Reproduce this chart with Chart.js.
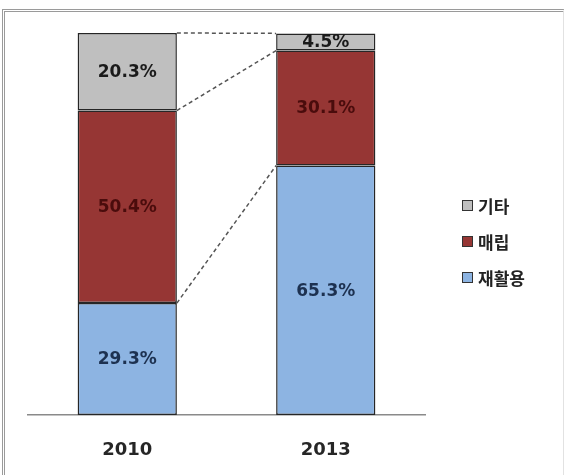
<!DOCTYPE html>
<html>
<head>
<meta charset="utf-8">
<script src="https://cdn.jsdelivr.net/npm/chart.js@4.4.0/dist/chart.umd.min.js"></script>
<style>
  html, body { margin: 0; padding: 0; background: #fff; }
  #wrap  { position: relative; width: 564px; height: 475px; overflow: hidden; }
  #frame { position: absolute; left: 2px; top: 9px; width: 558px; height: 480px;
           border-top: 3px double #9a9a9a; border-left: 3px double #9a9a9a; border-right: 1px solid #e2e2e2; }
  #chart { position: absolute; left: 0; top: 0; }
  #legend { position: absolute; left: 462px; top: 187px; font-family: "Noto Sans CJK KR", sans-serif;
            font-size: 17px; font-weight: 700; color: #222; }
  .item { display: flex; align-items: center; height: 36px; }
  .box  { width: 9px; height: 9px; border: 1px solid #333; margin-right: 5px; }
</style>
</head>
<body>
<div id="wrap">
  <div id="frame"></div>
  <canvas id="chart" width="564" height="475"></canvas>
  <div id="legend"></div>
</div>
<script>
// ---- data ----
const years      = ['2010', '2013'];
const seriesName = ['재활용', '매립', '기타'];
const recycle    = [29.3, 65.3];
const landfill   = [50.4, 30.1];
const etc        = [20.3, 4.5];

const FILL   = ['#8db4e2', '#963634', '#bfbfbf'];
const INK    = ['#1d3150', '#4a0c0c', '#1a1a1a'];
const values = [recycle, landfill, etc];

// labels in the middle of each segment
const segLabels = {
  id: 'segLabels',
  afterDatasetsDraw(chart) {
    const ctx = chart.ctx;
    ctx.save();
    ctx.font = 'bold 17px "DejaVu Sans", sans-serif';
    ctx.textAlign = 'center';
    ctx.textBaseline = 'middle';
    chart.data.datasets.forEach((ds, i) => {
      chart.getDatasetMeta(i).data.forEach((bar, j) => {
        const mid = (bar.y + bar.base) / 2;
        ctx.fillStyle = INK[i];
        ctx.fillText(ds.data[j].toFixed(1) + '%', bar.x, mid + 1);
      });
    });
    ctx.restore();
  }
};

// dashed lines joining segment tops of the two bars
const connectors = {
  id: 'connectors',
  afterDatasetsDraw(chart) {
    const ctx = chart.ctx;
    ctx.save();
    ctx.strokeStyle = '#555';
    ctx.lineWidth = 1.5;
    ctx.setLineDash([4, 3]);
    chart.data.datasets.forEach((ds, i) => {
      const bars = chart.getDatasetMeta(i).data;
      const a = bars[0], b = bars[1];
      ctx.beginPath();
      ctx.moveTo(a.x + a.width / 2, a.y);
      ctx.lineTo(b.x - b.width / 2, b.y);
      ctx.stroke();
    });
    ctx.restore();
  }
};

new Chart(document.getElementById('chart').getContext('2d'), {
  type: 'bar',
  data: {
    labels: years,
    datasets: values.map((v, i) => ({
      label:           seriesName[i],
      data:            v,
      backgroundColor: FILL[i],
      borderColor:     '#262626',
      borderWidth:     1.5,
      borderSkipped:   false,
      barPercentage:   0.5,
      categoryPercentage: 1,
    })),
  },
  options: {
    responsive: false,
    animation: false,
    layout: { padding: { left: 28, right: 139, top: 33, bottom: 14 } },
    plugins: { legend: { display: false }, tooltip: { enabled: false } },
    scales: {
      x: {
        stacked: true,
        afterFit: s => { s.height = 46; },
        grid:   { display: false },
        border: { display: true, color: '#8a8a8a', width: 1.5 },
        ticks:  { color: '#262626', padding: 17, maxRotation: 0,
                  font: { family: 'DejaVu Sans', size: 18, weight: 'bold' } },
      },
      y: {
        stacked: true,
        display: false,
        min: 0,
        max: 100,
      },
    },
  },
  plugins: [connectors, segLabels],
});

// legend, top item first (reverse of stack order)
const legend = document.getElementById('legend');
[2, 1, 0].forEach(i => {
  const row = document.createElement('div');
  row.className = 'item';
  const box = document.createElement('span');
  box.className = 'box';
  box.style.background = FILL[i];
  const txt = document.createElement('span');
  txt.textContent = seriesName[i];
  row.appendChild(box);
  row.appendChild(txt);
  legend.appendChild(row);
});
</script>
</body>
</html>
